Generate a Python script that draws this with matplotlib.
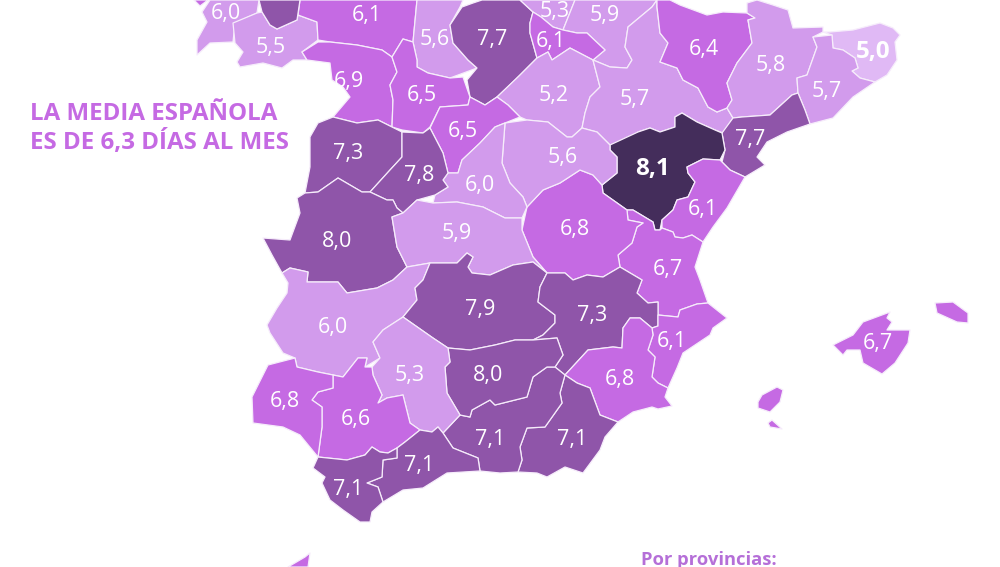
import matplotlib
matplotlib.use("Agg")
from matplotlib import pyplot as plt
from matplotlib.patches import Polygon

plt.rcParams['font.family'] = ['Open Sans', 'DejaVu Sans']

#Days per month for each province, as printed on the map.
provinces = ["Pontevedra", "Ourense", "Leon", "Palencia", "Burgos", "Alava", "Navarra", "La Rioja",
             "Soria", "Zaragoza", "Huesca", "Lleida", "Girona", "Barcelona", "Tarragona", "Teruel",
             "Castellon", "Valencia", "Cuenca", "Guadalajara", "Zamora", "Valladolid", "Segovia",
             "Madrid", "Salamanca", "Avila", "Caceres", "Toledo", "Badajoz", "Ciudad Real", "Albacete",
             "Alicante", "Murcia", "Almeria", "Granada", "Jaen", "Cordoba", "Sevilla", "Huelva",
             "Malaga", "Cadiz", "Baleares"]
values = [6.0, 5.5, 6.1, 5.6, 7.7, 5.3, 5.9, 6.1,
          5.2, 5.7, 6.4, 5.8, 5.0, 5.7, 7.7, 8.1,
          6.1, 6.7, 6.8, 5.6, 6.9, 6.5, 6.5,
          6.0, 7.3, 7.8, 8.0, 5.9, 6.0, 7.9, 7.3,
          6.1, 6.8, 7.1, 7.1, 8.0, 5.3, 6.6, 6.8,
          7.1, 7.1, 6.7]

#Label centres, same order as provinces.
label_x = [226, 271, 367, 435, 492, 555, 605, 551,
           554, 635, 704, 771, 873, 827, 750, 653,
           703, 668, 575, 563, 349, 422, 463,
           480, 348, 419, 337, 457, 333, 480, 592,
           672, 620, 572, 490, 488, 410, 356, 285,
           419, 348, 878]
label_y = [13, 48, 16, 40, 40, 11, 15, 41,
           95, 100, 50, 65, 52, 91, 140, 169,
           210, 270, 230, 158, 81, 96, 131,
           185, 154, 175, 242, 233, 328, 310, 315,
           342, 380, 439, 439, 375, 376, 420, 402,
           465, 490, 344]

outlines = {
    "Coruna": [(194, 0), (208, 0), (200, 6)],
    "Lugo": [(259, 0), (262, 12), (270, 25), (277, 29), (297, 20), (300, 0)],
    "Pontevedra": [(210, 0), (202, 12), (207, 22), (197, 40), (197, 55), (210, 43), (233, 42), (235, 23), (257, 13), (259, 0)],
    "Ourense": [(233, 23), (257, 13), (262, 12), (270, 25), (277, 29), (297, 20), (298, 15), (317, 22), (318, 40), (302, 52), (307, 60), (293, 60), (282, 68), (263, 63), (240, 67), (237, 62), (243, 52), (235, 43)],
    "Leon": [(300, 0), (298, 15), (317, 22), (318, 40), (330, 42), (357, 45), (382, 50), (392, 57), (403, 39), (413, 42), (417, 0)],
    "Palencia": [(417, 0), (413, 42), (417, 60), (417, 67), (428, 73), (450, 78), (477, 68), (468, 60), (453, 43), (450, 25), (460, 7), (463, 0)],
    "Burgos": [(520, 0), (533, 12), (530, 23), (530, 33), (537, 58), (520, 75), (515, 80), (497, 97), (485, 105), (470, 97), (467, 80), (477, 68), (468, 60), (453, 43), (450, 25), (462, 7), (473, 3), (482, 0)],
    "Alava": [(520, 0), (533, 12), (541, 17), (553, 27), (563, 30), (575, 0)],
    "Navarra": [(575, 0), (563, 30), (577, 33), (587, 33), (605, 50), (593, 60), (610, 67), (627, 68), (632, 60), (625, 47), (628, 27), (652, 7), (657, 0)],
    "La Rioja": [(533, 12), (541, 17), (553, 27), (563, 30), (577, 33), (587, 33), (605, 50), (593, 60), (570, 48), (552, 60), (548, 52), (537, 58), (530, 33), (530, 23)],
    "Soria": [(497, 97), (520, 75), (537, 58), (548, 52), (552, 60), (570, 48), (593, 60), (600, 87), (590, 97), (585, 113), (582, 128), (572, 137), (567, 137), (548, 122), (527, 120), (520, 117), (508, 105)],
    "Zaragoza": [(593, 60), (610, 67), (627, 68), (632, 60), (625, 47), (628, 27), (652, 7), (657, 0), (657, 7), (660, 33), (668, 43), (660, 62), (677, 68), (683, 80), (698, 88), (708, 107), (717, 112), (727, 108), (733, 118), (723, 133), (715, 130), (697, 122), (682, 113), (675, 117), (675, 127), (660, 132), (650, 128), (638, 132), (635, 137), (610, 145), (597, 132), (582, 128), (585, 113), (590, 97), (600, 87)],
    "Huesca": [(657, 0), (670, 0), (680, 5), (707, 15), (723, 12), (747, 13), (755, 18), (748, 20), (752, 43), (737, 63), (727, 83), (732, 100), (727, 108), (717, 112), (708, 107), (698, 88), (683, 80), (677, 68), (660, 62), (668, 43), (660, 33), (657, 7)],
    "Lleida": [(747, 3), (757, 0), (773, 5), (788, 10), (793, 28), (823, 27), (823, 32), (813, 37), (817, 47), (807, 75), (797, 78), (798, 93), (792, 95), (770, 115), (742, 117), (733, 118), (727, 108), (732, 100), (727, 83), (737, 63), (752, 43), (748, 20), (755, 18), (747, 13)],
    "Girona": [(823, 32), (830, 32), (853, 30), (880, 23), (893, 28), (900, 35), (895, 42), (897, 60), (887, 75), (875, 82), (860, 78), (852, 71), (858, 68), (855, 58), (843, 50), (833, 48), (832, 35)],
    "Barcelona": [(813, 37), (832, 35), (833, 48), (843, 50), (855, 58), (858, 68), (852, 71), (860, 78), (875, 82), (853, 97), (833, 118), (810, 124), (805, 110), (798, 93), (797, 78), (807, 75), (817, 47)],
    "Tarragona": [(798, 93), (805, 110), (810, 124), (787, 132), (767, 142), (757, 157), (765, 165), (745, 177), (730, 170), (722, 162), (725, 150), (722, 133), (733, 118), (742, 117), (770, 115), (792, 95)],
    "Teruel": [(610, 145), (638, 132), (650, 128), (660, 132), (675, 127), (675, 117), (682, 113), (697, 122), (715, 130), (722, 133), (725, 150), (720, 160), (703, 159), (687, 167), (688, 173), (695, 182), (688, 197), (677, 200), (673, 210), (662, 220), (660, 230), (655, 230), (653, 222), (633, 210), (627, 210), (603, 193), (602, 185), (617, 173), (617, 157), (610, 150)],
    "Castellon": [(687, 167), (703, 159), (720, 160), (722, 162), (730, 170), (745, 177), (727, 208), (713, 227), (703, 242), (692, 235), (683, 238), (675, 237), (673, 232), (662, 228), (662, 220), (673, 210), (677, 200), (688, 197), (695, 182), (688, 173)],
    "Valencia": [(627, 210), (633, 210), (653, 222), (655, 230), (660, 230), (662, 228), (673, 232), (675, 237), (683, 238), (692, 235), (703, 242), (695, 267), (700, 280), (708, 303), (697, 304), (680, 310), (678, 317), (658, 315), (658, 302), (648, 303), (637, 293), (642, 280), (620, 267), (618, 255), (632, 243), (637, 227), (643, 223), (628, 220)],
    "Cuenca": [(560, 183), (580, 170), (593, 175), (602, 185), (603, 193), (627, 210), (628, 220), (643, 223), (637, 227), (632, 243), (618, 255), (620, 267), (603, 277), (587, 275), (573, 280), (565, 273), (547, 273), (533, 257), (522, 230), (527, 207), (543, 190)],
    "Guadalajara": [(505, 123), (527, 120), (548, 122), (567, 137), (572, 137), (582, 128), (597, 132), (610, 145), (610, 150), (617, 157), (617, 173), (602, 185), (593, 175), (580, 170), (560, 183), (543, 190), (527, 207), (523, 197), (510, 183), (502, 163)],
    "Zamora": [(302, 52), (318, 42), (330, 42), (357, 45), (382, 50), (392, 57), (397, 72), (390, 85), (393, 100), (392, 127), (378, 120), (357, 123), (333, 117), (350, 97), (343, 87), (332, 80), (330, 63), (307, 60)],
    "Valladolid": [(392, 57), (403, 39), (413, 42), (417, 60), (417, 67), (428, 73), (450, 78), (463, 77), (470, 97), (468, 105), (440, 107), (430, 127), (423, 133), (402, 130), (392, 127), (393, 100), (390, 85), (397, 72)],
    "Segovia": [(470, 97), (485, 105), (497, 97), (508, 105), (520, 117), (505, 123), (495, 127), (480, 143), (462, 160), (458, 173), (448, 173), (443, 153), (430, 128), (440, 107), (468, 105)],
    "Madrid": [(495, 127), (505, 123), (502, 163), (510, 183), (523, 197), (527, 207), (522, 218), (505, 218), (483, 207), (457, 202), (433, 203), (435, 195), (448, 187), (443, 180), (448, 173), (458, 173), (462, 160), (480, 143)],
    "Salamanca": [(333, 117), (357, 123), (378, 120), (392, 127), (402, 132), (402, 157), (390, 170), (370, 192), (362, 192), (338, 178), (318, 192), (305, 193), (310, 167), (310, 137), (318, 123)],
    "Avila": [(402, 132), (423, 133), (430, 128), (443, 153), (448, 173), (443, 180), (448, 187), (435, 195), (417, 200), (403, 213), (397, 208), (393, 200), (387, 200), (370, 192), (390, 170), (402, 157)],
    "Caceres": [(305, 193), (318, 192), (338, 178), (362, 192), (370, 192), (387, 200), (393, 200), (397, 208), (403, 213), (392, 217), (397, 247), (407, 267), (393, 280), (377, 288), (347, 293), (338, 282), (307, 282), (308, 272), (290, 268), (282, 273), (272, 255), (263, 238), (290, 240), (300, 213), (297, 198)],
    "Toledo": [(403, 213), (417, 200), (433, 203), (457, 202), (483, 207), (505, 218), (522, 218), (522, 230), (533, 257), (547, 273), (533, 262), (513, 265), (490, 275), (472, 273), (468, 267), (473, 257), (467, 253), (457, 263), (430, 263), (407, 267), (397, 247), (392, 217)],
    "Badajoz": [(282, 273), (290, 268), (308, 272), (307, 282), (338, 282), (347, 293), (377, 288), (393, 280), (407, 267), (430, 263), (423, 280), (415, 288), (417, 300), (403, 317), (383, 330), (373, 342), (380, 358), (365, 367), (367, 358), (358, 358), (343, 377), (333, 375), (318, 372), (297, 367), (295, 358), (283, 353), (270, 333), (267, 325), (277, 308), (287, 293), (288, 283)],
    "Ciudad Real": [(430, 263), (457, 263), (467, 253), (473, 257), (468, 267), (472, 273), (490, 275), (513, 265), (533, 262), (547, 273), (540, 287), (538, 302), (555, 315), (555, 323), (543, 335), (533, 340), (515, 340), (495, 345), (470, 350), (448, 348), (433, 338), (403, 317), (417, 300), (415, 288), (423, 280)],
    "Albacete": [(547, 273), (565, 273), (573, 280), (587, 275), (603, 277), (620, 267), (642, 280), (637, 293), (648, 303), (658, 302), (658, 326), (652, 328), (640, 318), (630, 318), (623, 328), (622, 348), (613, 347), (588, 350), (565, 375), (555, 367), (563, 355), (557, 338), (533, 340), (543, 335), (555, 323), (555, 315), (538, 302), (540, 287)],
    "Alicante": [(658, 315), (678, 317), (680, 310), (697, 304), (708, 303), (727, 318), (713, 328), (710, 335), (683, 353), (677, 368), (668, 388), (658, 383), (652, 377), (655, 357), (648, 350), (653, 335), (652, 328), (658, 326)],
    "Murcia": [(565, 375), (588, 350), (613, 347), (622, 348), (623, 328), (630, 318), (640, 318), (652, 328), (653, 335), (648, 350), (655, 357), (652, 377), (658, 383), (668, 388), (665, 397), (672, 406), (658, 409), (652, 407), (633, 412), (618, 422), (600, 415), (590, 388), (577, 383)],
    "Almeria": [(565, 375), (560, 393), (562, 403), (545, 427), (527, 428), (520, 447), (522, 460), (518, 472), (537, 473), (547, 477), (565, 467), (583, 473), (600, 450), (605, 437), (618, 422), (600, 415), (590, 388), (577, 383)],
    "Granada": [(555, 367), (565, 375), (560, 393), (562, 403), (545, 427), (527, 428), (520, 447), (522, 460), (518, 472), (500, 473), (480, 471), (478, 458), (453, 448), (443, 433), (460, 415), (470, 417), (472, 410), (490, 400), (495, 405), (527, 397), (533, 377), (547, 367)],
    "Jaen": [(448, 348), (470, 350), (495, 345), (515, 340), (533, 340), (557, 338), (563, 355), (555, 367), (547, 367), (533, 377), (527, 397), (495, 405), (490, 400), (472, 410), (470, 417), (460, 415), (447, 393), (445, 367), (450, 362)],
    "Cordoba": [(403, 317), (433, 338), (448, 348), (450, 362), (445, 367), (447, 393), (460, 415), (443, 433), (438, 427), (432, 432), (420, 430), (410, 423), (403, 395), (387, 398), (378, 403), (382, 395), (373, 375), (372, 367), (380, 358), (373, 342), (383, 330)],
    "Sevilla": [(333, 375), (343, 377), (358, 358), (367, 358), (365, 367), (372, 367), (373, 375), (382, 395), (378, 403), (387, 398), (403, 395), (410, 423), (420, 430), (405, 442), (397, 448), (388, 453), (380, 452), (372, 447), (365, 455), (347, 460), (318, 457), (322, 427), (322, 407), (312, 400), (318, 392), (333, 388)],
    "Huelva": [(252, 397), (268, 365), (295, 358), (297, 367), (318, 372), (333, 375), (333, 388), (318, 392), (312, 400), (322, 407), (322, 427), (318, 457), (300, 435), (283, 427), (253, 423)],
    "Malaga": [(420, 430), (432, 432), (438, 427), (443, 433), (453, 448), (478, 458), (480, 471), (447, 473), (423, 488), (403, 490), (383, 502), (378, 487), (367, 483), (382, 477), (383, 460), (397, 458), (397, 448), (405, 442)],
    "Cadiz": [(318, 457), (347, 460), (365, 455), (372, 447), (380, 452), (388, 453), (397, 448), (397, 458), (383, 460), (382, 477), (367, 483), (378, 487), (383, 502), (372, 512), (370, 522), (360, 522), (343, 510), (330, 500), (322, 483), (325, 477), (313, 468)],
    "Baleares": [(833, 345), (853, 335), (863, 322), (890, 312), (887, 318), (892, 322), (887, 330), (910, 330), (908, 343), (895, 363), (882, 374), (863, 363), (860, 350), (847, 350), (843, 355)],
    "Menorca": [(935, 303), (953, 302), (968, 313), (968, 323), (957, 322), (937, 313)],
    "Ibiza": [(762, 395), (777, 387), (783, 390), (780, 402), (770, 412), (758, 408), (758, 402)],
    "Formentera": [(768, 423), (772, 420), (782, 429), (770, 427)],
    "Melilla": [(288, 567), (305, 557), (310, 553), (308, 567)],
}
#Outlines that carry no number of their own, with the value of the province they belong to.
extra_parts = {"Coruna": 6.1, "Lugo": 7.1, "Menorca": 6.7, "Ibiza": 6.7, "Formentera": 6.7, "Melilla": 6.7}

title_lines = ["LA MEDIA ESPAÑOLA", "ES DE 6,3 DÍAS AL MES"]
legend_title = "Por provincias:"

#Colour classes of the map.
def class_colour(value):
    if value <= 5.0:
        return "#e0b9f5"
    if value <= 6.0:
        return "#d29bec"
    if value < 7.0:
        return "#c56ae3"
    if value <= 8.0:
        return "#8f55a9"
    return "#442d5b"

fig = plt.figure(figsize=(10, 5.67), dpi=100)
ax = fig.add_axes([0, 0, 1, 1])
ax.set_xlim(0, 1000)
ax.set_ylim(567, 0)
ax.axis("off")

#Draw the provinces.
shapes = dict(zip(provinces, values))
shapes.update(extra_parts)
for name, value in shapes.items():
    ax.add_patch(Polygon(outlines[name], closed=True, facecolor=class_colour(value),
                         edgecolor="#f6ecfb", linewidth=0.9, joinstyle="round"))

#Numbers on the provinces, the two extremes are bold and larger.
for name, value, x, y in zip(provinces, values, label_x, label_y):
    extreme = value in (min(values), max(values))
    ax.text(x, y, f"{value:.1f}".replace(".", ","), color="white",
            fontsize=17.5 if extreme else 15.5, weight="bold" if extreme else 500,
            ha="center", va="center")

ax.text(30, 113.5, title_lines[0], color="#c56ae3", fontsize=17.4, weight="bold", ha="left", va="center")
ax.text(30, 142.5, title_lines[1], color="#c56ae3", fontsize=17.4, weight="bold", ha="left", va="center")
ax.text(641, 560, legend_title, color="#b56fd8", fontsize=13.2, weight="bold", ha="left", va="center")

fig.savefig("out.png", dpi=100)
